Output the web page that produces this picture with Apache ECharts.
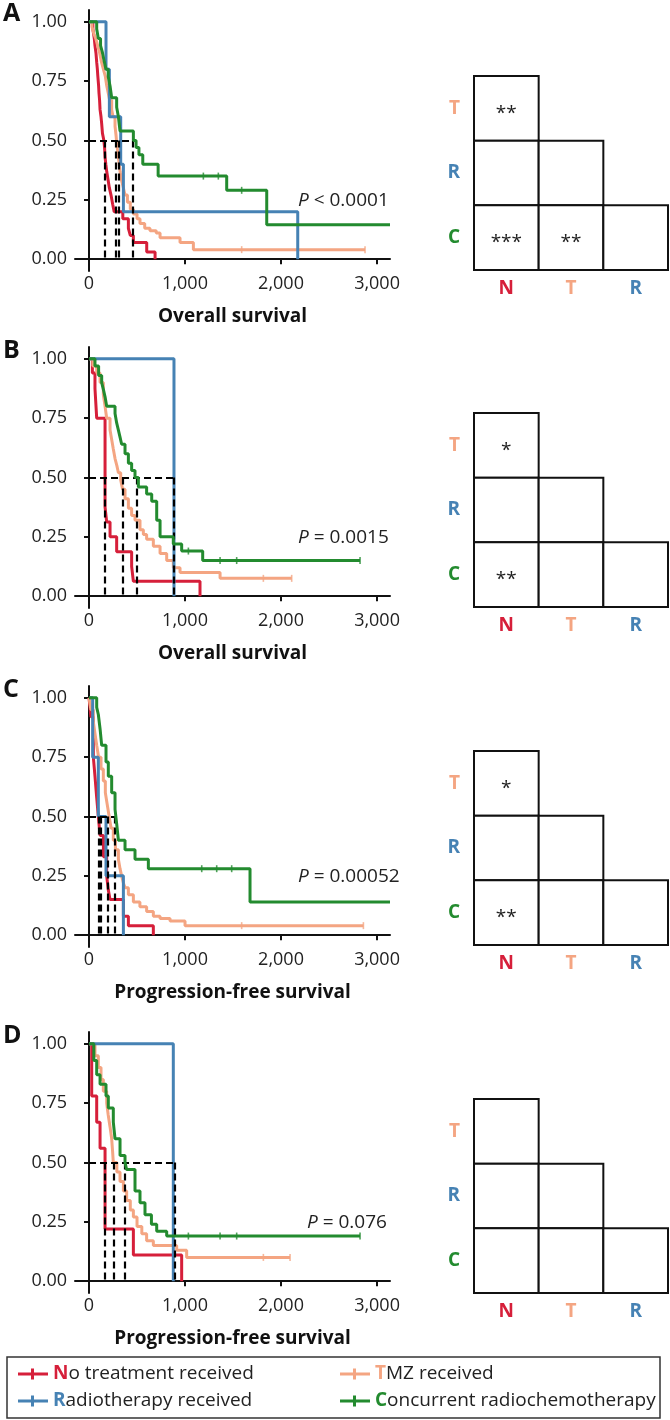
<!DOCTYPE html>
<html>
<head>
<meta charset="utf-8">
<script src="https://cdn.jsdelivr.net/npm/echarts@6/dist/echarts.min.js"></script>
<style>
  html, body { margin: 0; padding: 0; background: #fff; }
  #main { width: 670px; height: 1420px; }
</style>
</head>
<body>
<div id="main"></div>
<script>
var myChart = echarts.init(document.getElementById('main'));

var groups = ['No treatment received', 'TMZ received', 'Radiotherapy received', 'Concurrent radiochemotherapy'];
var letters = ['N', 'T', 'R', 'C'];
var colors = ['#d61f3a', '#f4a582', '#4682b4', '#238b2f'];

// A: overall survival
var osA_N = [[0,1],[40,0.97],[55,0.93],[62,0.9],[72,0.87],[80,0.83],[87,0.8],[92,0.77],[100,0.73],[104,0.7],[110,0.67],[115,0.63],[125,0.6],[132,0.57],[140,0.53],[155,0.5],[162,0.47],[167,0.43],[175,0.4],[184,0.37],[200,0.33],[212,0.3],[229,0.27],[247,0.23],[262,0.2],[352,0.17],[410,0.13],[430,0.1],[462,0.07],[601,0.03],[688,0]];
var osA_T = [[0,1],[30,0.98],[50,0.95],[70,0.93],[90,0.9],[110,0.87],[130,0.83],[150,0.8],[170,0.77],[185,0.73],[200,0.7],[215,0.67],[236,0.63],[250,0.6],[271,0.56],[282,0.52],[288,0.49],[300,0.45],[312,0.41],[323,0.37],[340,0.33],[358,0.3],[375,0.27],[400,0.24],[430,0.21],[462,0.19],[500,0.17],[531,0.15],[580,0.13],[635,0.12],[700,0.11],[740,0.09],[948,0.07],[1087,0.04],[2875,0.04]];
var osA_R = [[0,1],[177,0.8],[212,0.6],[330,0.4],[358,0.2],[2174,0]];
var osA_C = [[0,1],[80,0.97],[97,0.93],[120,0.9],[140,0.87],[160,0.83],[177,0.8],[200,0.77],[219,0.73],[236,0.68],[288,0.64],[306,0.6],[323,0.54],[462,0.5],[490,0.47],[520,0.44],[560,0.4],[720,0.35],[1434,0.29],[1851,0.145],[3135,0.145]];
var censorA_T = [[1590,0.04],[2875,0.04]];
var censorA_C = [[1191,0.35],[1347,0.35],[1590,0.29]];
var mediansA = [160, 281, 312, 455];
var sigA = ['**', '', '', '***', '**', ''];

// B: overall survival
var osB_N = [[0,1],[35,0.94],[62,0.875],[80,0.75],[167,0.375],[184,0.3125],[219,0.25],[288,0.1875],[444,0.125],[462,0.0625],[1156,0]];
var osB_T = [[0,1],[40,0.97],[80,0.94],[115,0.9],[149,0.85],[167,0.8],[184,0.75],[219,0.7],[236,0.66],[253,0.62],[271,0.58],[290,0.55],[306,0.52],[330,0.49],[350,0.45],[375,0.41],[410,0.37],[444,0.34],[479,0.32],[531,0.28],[566,0.26],[600,0.24],[670,0.21],[740,0.18],[809,0.15],[878,0.12],[948,0.1],[1365,0.075],[2111,0.075]];
var osB_R = [[0,1],[885,0]];
var osB_C = [[0,1],[62,0.97],[100,0.93],[132,0.9],[150,0.87],[167,0.84],[184,0.8],[271,0.77],[288,0.73],[306,0.7],[323,0.67],[340,0.64],[375,0.6],[410,0.56],[444,0.53],[479,0.5],[514,0.46],[600,0.43],[653,0.4],[705,0.32],[740,0.25],[878,0.22],[965,0.19],[1184,0.15],[2823,0.15]];
var censorB_T = [[1816,0.075],[2111,0.075]];
var censorB_C = [[1035,0.19],[1365,0.15],[1538,0.15],[2823,0.15]];
var mediansB = [167, 347, 497, 885];
var sigB = ['*', '', '', '**', '', ''];

// C: progression-free survival
var pfsC_N = [[0,1],[20,0.92],[45,0.75],[62,0.67],[80,0.58],[97,0.5],[115,0.42],[150,0.33],[184,0.25],[201,0.19],[219,0.15],[358,0.08],[410,0.04],[670,0]];
var pfsC_T = [[0,1],[20,0.95],[45,0.9],[62,0.85],[80,0.8],[100,0.75],[125,0.7],[149,0.65],[170,0.6],[190,0.55],[210,0.5],[230,0.45],[253,0.4],[275,0.36],[306,0.32],[323,0.28],[340,0.25],[358,0.22],[375,0.2],[410,0.17],[462,0.14],[530,0.12],[600,0.1],[670,0.08],[740,0.07],[844,0.06],[1000,0.04],[2858,0.04]];
var pfsC_R = [[0,1],[38,0.75],[97,0.5],[177,0.25],[358,0]];
var pfsC_C = [[0,1],[80,0.96],[97,0.93],[115,0.87],[132,0.8],[177,0.73],[201,0.67],[236,0.6],[271,0.53],[288,0.47],[306,0.4],[375,0.36],[479,0.32],[618,0.28],[1677,0.14],[3135,0.14]];
var censorC_T = [[1590,0.04],[2858,0.04]];
var censorC_C = [[1174,0.28],[1330,0.28],[1486,0.28]];
var mediansC = [104, 125, 191, 271];
var sigC = ['*', '', '', '**', '', ''];

// D: progression-free survival
var pfsD_N = [[0,1],[28,0.78],[80,0.67],[115,0.56],[167,0.22],[462,0.11],[965,0]];
var pfsD_T = [[0,1],[62,0.95],[97,0.9],[125,0.85],[149,0.8],[184,0.75],[200,0.7],[219,0.65],[236,0.6],[245,0.55],[253,0.5],[290,0.46],[323,0.42],[358,0.38],[392,0.34],[430,0.3],[462,0.27],[500,0.23],[550,0.2],[600,0.17],[670,0.15],[913,0.13],[1017,0.1],[2094,0.1]];
var pfsD_R = [[0,1],[878,0]];
var pfsD_C = [[0,1],[50,0.93],[80,0.87],[115,0.83],[177,0.78],[201,0.73],[253,0.67],[271,0.6],[323,0.53],[375,0.5],[392,0.47],[479,0.38],[531,0.33],[583,0.28],[650,0.24],[705,0.21],[809,0.19],[2823,0.19]];
var censorD_T = [[1816,0.1],[2094,0.1]];
var censorD_C = [[1035,0.19],[1365,0.19],[1538,0.19],[2823,0.19]];
var mediansD = [160, 253, 375, 896];
var sigD = ['', '', '', '', '', ''];

var xTicks = [0, 1000, 2000, 3000];
var yTicks = [0, 0.25, 0.5, 0.75, 1];
var pLabels = ['< 0.0001', '= 0.0015', '= 0.00052', '= 0.076'];
var xTitles = ['Overall survival', 'Overall survival', 'Progression-free survival', 'Progression-free survival'];
var panelLetters = ['A', 'B', 'C', 'D'];

var panels = [
    { curves: [osA_N, osA_T, osA_R, osA_C], censT: censorA_T, censC: censorA_C, medians: mediansA, sig: sigA },
    { curves: [osB_N, osB_T, osB_R, osB_C], censT: censorB_T, censC: censorB_C, medians: mediansB, sig: sigB },
    { curves: [pfsC_N, pfsC_T, pfsC_R, pfsC_C], censT: censorC_T, censC: censorC_C, medians: mediansC, sig: sigC },
    { curves: [pfsD_N, pfsD_T, pfsD_R, pfsD_C], censT: censorD_T, censC: censorD_C, medians: mediansD, sig: sigD }
];

// matrix cells: [column (N,T,R), row (C,R,T)]
var cells = [[0,2],[0,1],[1,1],[0,0],[1,0],[2,0]];

var FONT = 'Open Sans';
var plotTops = [10, 347, 686, 1032];
var matTops = [76, 413, 751, 1099];

var grid = [], xAxis = [], yAxis = [], series = [], graphic = [];
var rich = {};
letters.forEach(function (l, i) {
    rich[l] = { color: colors[i], fontWeight: 'bold', fontSize: 19, fontFamily: FONT };
});

panels.forEach(function (p, k) {
    var g = k * 2;
    grid.push({ left: 75, top: plotTops[k], width: 315, height: 261 });
    grid.push({ left: 474, top: matTops[k], width: 194, height: 194 });

    xAxis.push({
        type: 'value', gridIndex: g, min: -146, max: 3135,
        name: xTitles[k], nameLocation: 'middle', nameGap: 36,
        nameTextStyle: { fontFamily: FONT, fontWeight: 'bold', fontSize: 19, color: '#111' },
        axisLine: { lineStyle: { color: '#111', width: 2 } },
        axisTick: { show: true, length: 5, lineStyle: { color: '#111', width: 2 }, customValues: xTicks },
        axisLabel: {
            customValues: xTicks, margin: 4, fontFamily: FONT, fontSize: 18, color: '#222',
            formatter: function (v) { return v.toLocaleString('en-US'); }
        },
        splitLine: { show: false }
    });
    yAxis.push({
        type: 'value', gridIndex: g, min: -0.05, max: 1.05,
        axisLine: { show: true, lineStyle: { color: '#111', width: 2 } },
        axisTick: { show: true, length: 5, lineStyle: { color: '#111', width: 2 }, customValues: yTicks },
        axisLabel: {
            customValues: yTicks, margin: 8, fontFamily: FONT, fontSize: 18, color: '#222',
            formatter: function (v) { return v.toFixed(2); }
        },
        splitLine: { show: false }
    });

    xAxis.push({
        type: 'category', gridIndex: g + 1, data: ['N', 'T', 'R'],
        axisLine: { show: false }, axisTick: { show: false },
        axisLabel: { margin: 9, formatter: function (v) { return '{' + v + '|' + v + '}'; }, rich: rich }
    });
    yAxis.push({
        type: 'category', gridIndex: g + 1, data: ['C', 'R', 'T'],
        axisLine: { show: false }, axisTick: { show: false },
        axisLabel: { margin: 14, formatter: function (v) { return '{' + v + '|' + v + '}'; }, rich: rich }
    });

    p.curves.forEach(function (c, i) {
        var s = {
            name: groups[i], type: 'line', step: 'end', xAxisIndex: g, yAxisIndex: g,
            data: c, showSymbol: false, symbol: 'none', color: colors[i],
            lineStyle: { color: colors[i], width: 3 }, silent: true, z: 2 + i
        };
        if (i === 3) {
            var md = [[{ coord: [0, 0.5] }, { coord: [Math.max.apply(null, p.medians), 0.5] }]];
            p.medians.forEach(function (m) { md.push([{ coord: [m, 0.5] }, { coord: [m, 0] }]); });
            s.markLine = {
                silent: true, symbol: ['none', 'none'], label: { show: false },
                lineStyle: { color: '#000', width: 2.2, type: [7, 4] }, data: md, animation: false
            };
        }
        series.push(s);
    });
    [[p.censT, 1], [p.censC, 3]].forEach(function (pair) {
        series.push({
            name: groups[pair[1]], type: 'scatter', xAxisIndex: g, yAxisIndex: g,
            data: pair[0], symbol: 'rect', symbolSize: [1.6, 7], color: colors[pair[1]], silent: true, z: 6
        });
    });

    var labels = p.sig;
    series.push({
        type: 'custom', xAxisIndex: g + 1, yAxisIndex: g + 1, silent: true,
        data: cells,
        renderItem: function (params, api) {
            var c = api.coord([api.value(0), api.value(1)]);
            var sz = api.size([1, 1]);
            return {
                type: 'group', children: [
                    { type: 'rect', shape: { x: c[0] - sz[0] / 2, y: c[1] - sz[1] / 2, width: sz[0], height: sz[1] },
                      style: { fill: '#fff', stroke: '#111', lineWidth: 2 } },
                    { type: 'text', style: { text: labels[params.dataIndex], x: c[0], y: c[1] + 5,
                      align: 'center', verticalAlign: 'middle', fontSize: 19, fontFamily: FONT, fill: '#222' } }
                ]
            };
        }
    });

    graphic.push({
        type: 'text', left: 3, top: plotTops[k] - 9,
        style: { text: panelLetters[k], fontSize: 25, fontWeight: 'bold', fontFamily: FONT, fill: '#111' }
    });
    graphic.push({
        type: 'text', x: k === 3 ? 307 : 298, y: plotTops[k] + 191,
        style: {
            text: '{i|P} ' + pLabels[k], verticalAlign: 'middle', fontSize: 19, fontFamily: FONT, fill: '#222',
            rich: { i: { fontStyle: 'italic', fontSize: 19, fontFamily: FONT, fill: '#222' } }
        }
    });
});

graphic.push({
    type: 'rect', shape: { x: 7, y: 1357, width: 653, height: 61 },
    style: { fill: 'none', stroke: '#333', lineWidth: 1.5 }, z: 100
});

var legendIcon = 'path://M0,4 H13 V0 H16 V4 H30 V7 H16 V11 H13 V7 H0 Z';
var legendRich = {};
letters.forEach(function (l, i) {
    legendRich[l] = { color: colors[i], fontWeight: 'bold', fontSize: 19, fontFamily: FONT, lineHeight: 20 };
});
function legendBox(left, names) {
    return {
        left: left, top: 1364, orient: 'vertical', padding: 0, itemGap: 7,
        itemWidth: 30, itemHeight: 11, icon: legendIcon, selectedMode: false,
        data: names,
        textStyle: { fontSize: 19, fontFamily: FONT, color: '#222', lineHeight: 20, rich: legendRich },
        formatter: function (name) {
            var i = groups.indexOf(name);
            return '{' + letters[i] + '|' + name.charAt(0) + '}' + name.slice(1);
        }
    };
}

option = {
    animation: false,
    backgroundColor: '#fff',
    grid: grid,
    xAxis: xAxis,
    yAxis: yAxis,
    legend: [
        legendBox(18, [groups[0], groups[2]]),
        legendBox(340, [groups[1], groups[3]])
    ],
    graphic: graphic,
    series: series
};

myChart.setOption(option);
</script>
</body>
</html>
